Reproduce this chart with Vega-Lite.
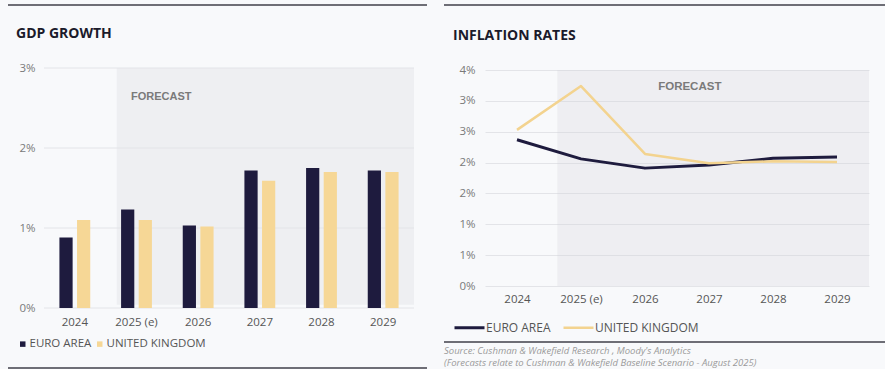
{
  "$schema": "https://vega.github.io/schema/vega-lite/v6.json",
  "background": "#f8f9fb",
  "padding": {"left": 7, "top": 4, "right": 0, "bottom": 0},
  "config": {"view": {"stroke": null}, "font": "Open Sans"},
  "spacing": 16,
  "resolve": {"scale": {"color": "independent", "strokeWidth": "independent", "x": "independent", "y": "independent"}, "legend": {"color": "independent"}, "axis": {"x": "independent", "y": "independent"}},
  "hconcat": [
    {
      "spacing": 17,
      "resolve": {"scale": {"color": "independent", "x": "independent", "y": "independent"}, "legend": {"color": "independent"}},
      "vconcat": [
        {
          "spacing": 21,
          "resolve": {"scale": {"color": "independent", "x": "independent", "y": "independent"}, "legend": {"color": "independent"}},
          "vconcat": [
            {"width": 383, "height": 2, "data": {"values": []}, "mark": "rule", "view": {"fill": "#6e6e76", "stroke": null},
              "encoding": {"y": {"field": "b", "type": "quantitative", "scale": {"domain": [0, 1]},
                "axis": {"values": [0.5], "labels": false, "domain": false, "grid": false, "title": null, "ticks": true, "tickSize": 36, "tickWidth": 2, "tickColor": "#6e6e76", "translate": 0}}}},
            {
              "width": 370,
              "height": 240,
              "title": {"text": "GDP GROWTH", "anchor": "start", "fontSize": 14, "fontWeight": "bold", "color": "#1b1b2b", "dx": 8, "offset": 21, "font": "Open Sans"},
              "resolve": {"scale": {"x": "independent"}},
              "layer": [
                {
                  "data": {"values": [{"start": 1.18, "end": 6, "bottom": 0.04, "top": 3}]},
                  "mark": {"type": "rect", "color": "#eeeff2"},
                  "encoding": {
                    "x": {"field": "start", "type": "quantitative", "scale": {"domain": [0, 6], "nice": false, "zero": false}, "axis": null},
                    "x2": {"field": "end"},
                    "y": {"field": "bottom", "type": "quantitative"},
                    "y2": {"field": "top"}
                  }
                },
                {
                  "data": {"values": [{"label": "FORECAST", "x": 1.41, "y": 2.64}]},
                  "mark": {"type": "text", "align": "left", "baseline": "middle", "font": "Liberation Sans", "fontWeight": "bold", "fontSize": 11, "color": "#7a7a7a"},
                  "encoding": {
                    "x": {"field": "x", "type": "quantitative", "scale": {"domain": [0, 6], "nice": false, "zero": false}, "axis": null},
                    "y": {"field": "y", "type": "quantitative"},
                    "text": {"field": "label"}
                  }
                },
                {
                  "data": {"values": [{"gdpGrid": 0}, {"gdpGrid": 1}, {"gdpGrid": 2}, {"gdpGrid": 3}]},
                  "mark": {"type": "rule", "color": "#e3e4e8", "strokeWidth": 1},
                  "encoding": {"y": {"field": "gdpGrid", "type": "quantitative"}}
                },
                {
                  "data": {"values": [
                    {"year": "2024", "series": "EURO AREA", "value": 0.88},
                    {"year": "2024", "series": "UNITED KINGDOM", "value": 1.10},
                    {"year": "2025 (e)", "series": "EURO AREA", "value": 1.23},
                    {"year": "2025 (e)", "series": "UNITED KINGDOM", "value": 1.10},
                    {"year": "2026", "series": "EURO AREA", "value": 1.03},
                    {"year": "2026", "series": "UNITED KINGDOM", "value": 1.02},
                    {"year": "2027", "series": "EURO AREA", "value": 1.72},
                    {"year": "2027", "series": "UNITED KINGDOM", "value": 1.59},
                    {"year": "2028", "series": "EURO AREA", "value": 1.75},
                    {"year": "2028", "series": "UNITED KINGDOM", "value": 1.70},
                    {"year": "2029", "series": "EURO AREA", "value": 1.72},
                    {"year": "2029", "series": "UNITED KINGDOM", "value": 1.70}
                  ]},
                  "mark": {"type": "bar"},
                  "encoding": {
                    "x": {"field": "year", "type": "nominal", "sort": null, "scale": {"paddingInner": 0.5, "paddingOuter": 0.25},
                      "axis": {"title": null, "domain": false, "ticks": false, "labelPadding": 8, "labelColor": "#555555", "labelFontSize": 11.5, "labelAngle": 0}},
                    "xOffset": {"field": "series", "type": "nominal", "scale": {"paddingInner": 0.25}},
                    "y": {"field": "value", "type": "quantitative", "scale": {"domain": [0, 3], "nice": false},
                      "axis": {"values": [0, 1, 2, 3], "labelExpr": "datum.value + '%'", "grid": false, "domain": false, "ticks": false, "labelPadding": 9, "labelColor": "#7a7a7a", "labelFontSize": 11.5, "title": null, "minExtent": 36}},
                    "color": {"field": "series", "type": "nominal",
                      "scale": {"domain": ["EURO AREA", "UNITED KINGDOM"], "range": ["#1e1b3e", "#f6d796"]},
                      "legend": {"title": null, "orient": "none", "legendX": -27, "legendY": 270, "direction": "horizontal", "symbolType": "square", "symbolSize": 30, "symbolStrokeWidth": 0, "labelFontSize": 11.5, "labelColor": "#555555", "labelOffset": 1, "columnPadding": 2, "padding": 0}}
                  }
                }
              ]
            }
          ]
        },
        {"width": 383, "height": 2, "data": {"values": []}, "mark": "rule", "view": {"fill": "#6e6e76", "stroke": null},
          "encoding": {"y": {"field": "b", "type": "quantitative", "scale": {"domain": [0, 1]},
            "axis": {"values": [0.5], "labels": false, "domain": false, "grid": false, "title": null, "ticks": true, "tickSize": 36, "tickWidth": 2, "tickColor": "#6e6e76", "translate": 0}}}}
      ]
    },
    {
      "spacing": 7,
      "resolve": {"scale": {"color": "independent", "strokeWidth": "independent", "x": "independent", "y": "independent"}, "legend": {"color": "independent"}},
      "vconcat": [
        {
          "spacing": 23,
          "resolve": {"scale": {"color": "independent", "strokeWidth": "independent", "x": "independent", "y": "independent"}, "legend": {"color": "independent"}},
          "vconcat": [
            {"width": 400, "height": 2, "data": {"values": []}, "mark": "rule", "view": {"fill": "#6e6e76", "stroke": null},
              "encoding": {"y": {"field": "b", "type": "quantitative", "scale": {"domain": [0, 1]},
                "axis": {"values": [0.5], "labels": false, "domain": false, "grid": false, "title": null, "ticks": true, "tickSize": 41, "tickWidth": 2, "tickColor": "#6e6e76", "translate": 0}}}},
            {
              "width": 384,
              "height": 216,
              "title": {"text": "INFLATION RATES", "anchor": "start", "fontSize": 14, "fontWeight": "bold", "color": "#1b1b2b", "dx": 9, "offset": 21, "font": "Open Sans"},
              "resolve": {"scale": {"x": "independent"}},
              "layer": [
                {
                  "data": {"values": [{"start": 1.13, "end": 6, "bottom": 0, "top": 3.5}]},
                  "mark": {"type": "rect", "color": "#d0d1d7", "opacity": 0.25},
                  "encoding": {
                    "x": {"field": "start", "type": "quantitative", "scale": {"domain": [0, 6], "nice": false, "zero": false}, "axis": null},
                    "x2": {"field": "end"},
                    "y": {"field": "bottom", "type": "quantitative"},
                    "y2": {"field": "top"}
                  }
                },
                {
                  "data": {"values": [{"label": "FORECAST", "x": 3.2, "y": 3.23}]},
                  "mark": {"type": "text", "align": "center", "baseline": "middle", "font": "Liberation Sans", "fontWeight": "bold", "fontSize": 11.5, "color": "#7a7a7a"},
                  "encoding": {
                    "x": {"field": "x", "type": "quantitative", "scale": {"domain": [0, 6], "nice": false, "zero": false}, "axis": null},
                    "y": {"field": "y", "type": "quantitative"},
                    "text": {"field": "label"}
                  }
                },
                {
                  "data": {"values": [
                    {"year": "2024", "series": "EURO AREA", "rate": 2.37},
                    {"year": "2025 (e)", "series": "EURO AREA", "rate": 2.06},
                    {"year": "2026", "series": "EURO AREA", "rate": 1.91},
                    {"year": "2027", "series": "EURO AREA", "rate": 1.96},
                    {"year": "2028", "series": "EURO AREA", "rate": 2.07},
                    {"year": "2029", "series": "EURO AREA", "rate": 2.09},
                    {"year": "2024", "series": "UNITED KINGDOM", "rate": 2.53},
                    {"year": "2025 (e)", "series": "UNITED KINGDOM", "rate": 3.24},
                    {"year": "2026", "series": "UNITED KINGDOM", "rate": 2.14},
                    {"year": "2027", "series": "UNITED KINGDOM", "rate": 1.99},
                    {"year": "2028", "series": "UNITED KINGDOM", "rate": 2.02},
                    {"year": "2029", "series": "UNITED KINGDOM", "rate": 2.01}
                  ]},
                  "mark": {"type": "line", "strokeJoin": "round"},
                  "encoding": {
                    "x": {"field": "year", "type": "ordinal", "sort": null, "scale": {"type": "point", "padding": 0.5},
                      "axis": {"title": null, "domain": false, "ticks": false, "labelPadding": 7, "labelColor": "#555555", "labelFontSize": 11.5, "labelAngle": 0}},
                    "y": {"field": "rate", "type": "quantitative", "scale": {"domain": [0, 3.5], "nice": false},
                      "axis": {"tickCount": 7, "labelExpr": "round(datum.value) + '%'", "labelOverlap": false, "grid": true, "gridColor": "#e3e4e8", "domain": false, "ticks": false, "labelPadding": 10, "labelColor": "#7a7a7a", "labelFontSize": 11.5, "title": null, "minExtent": 41}},
                    "strokeWidth": {"field": "series", "type": "nominal", "scale": {"domain": ["EURO AREA", "UNITED KINGDOM"], "range": [3, 2.5]}, "legend": null},
                    "color": {"field": "series", "type": "nominal",
                      "scale": {"domain": ["EURO AREA", "UNITED KINGDOM"], "range": ["#1e1b3e", "#f3d38f"]},
                      "legend": {"title": null, "orient": "none", "legendX": -32, "legendY": 241, "direction": "horizontal", "symbolType": "stroke", "symbolSize": 900, "symbolStrokeWidth": 3, "labelFontSize": 12, "labelColor": "#555555", "labelOffset": 0, "columnPadding": 7, "padding": 0}}
                  }
                }
              ]
            }
          ]
        },
        {"width": 400, "height": 2, "data": {"values": []}, "mark": "rule", "view": {"fill": "#6e6e76", "stroke": null},
          "encoding": {"y": {"field": "b", "type": "quantitative", "scale": {"domain": [0, 1]},
            "axis": {"values": [0.5], "labels": false, "domain": false, "grid": false, "title": null, "ticks": true, "tickSize": 41, "tickWidth": 2, "tickColor": "#6e6e76", "translate": 0}}},
          "title": {"text": ["Source: Cushman & Wakefield Research , Moody's Analytics", "(Forecasts relate to Cushman & Wakefield Baseline Scenario - August 2025)"], "orient": "bottom", "anchor": "start", "fontSize": 9.5, "fontStyle": "italic", "fontWeight": "normal", "color": "#9a9a9a", "offset": 3, "lineHeight": 12, "dx": 1, "font": "Open Sans"}}
      ]
    }
  ]
}
